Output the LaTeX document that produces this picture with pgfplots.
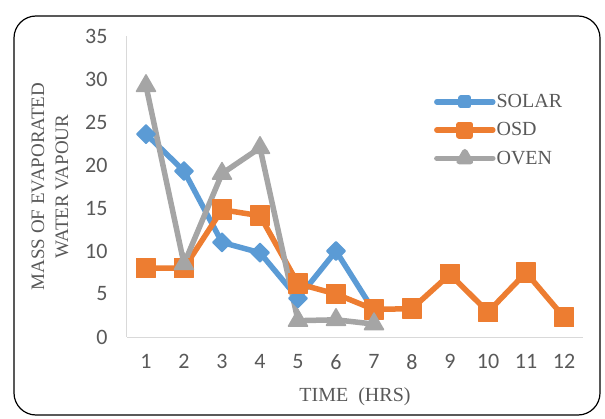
\documentclass[border=0pt]{standalone}
\usepackage{fontspec}
\setmainfont{Liberation Serif}
\newfontfamily\labfont{Liberation Serif}
\newfontfamily\tickfont{Carlito}
\usepackage{pgfplots}
\pgfplotsset{compat=1.18}

\definecolor{solar}{HTML}{5B9BD5}
\definecolor{osd}{HTML}{ED7D31}
\definecolor{oven}{HTML}{A5A5A5}
\definecolor{txt}{HTML}{595959}
\definecolor{axl}{HTML}{D9D9D9}

\begin{document}
\begin{tikzpicture}[x=1bp,y=1bp]
\useasboundingbox (-127bp,-82bp) rectangle (478bp,337bp);
\draw[black, line width=1.2bp, rounded corners=22bp] (-113bp,-78bp) rectangle (473bp,321bp);
\begin{axis}[
    at={(0,0)}, anchor=origin,
    scale only axis,
    width=456bp, height=301bp,
    xmin=0.5, xmax=12.5,
    ymin=0, ymax=35,
    xtick={1,...,12},
    ytick={0,5,...,35},
    major tick length=0pt,
    axis x line=bottom, axis y line=left,
    axis line style={-, draw=axl, line width=1bp},
    /pgf/number format/assume math mode=true,
    tick label style={font=\tickfont\fontsize{22bp}{24bp}\selectfont, text=txt},
    yticklabel style={xshift=-16bp},
    xticklabel style={yshift=-14bp},
    xlabel={TIME\ \ (HRS)},
    ylabel={MASS OF EVAPORATED\\WATER VAPOUR},
    xlabel style={font=\labfont\fontsize{20bp}{22bp}\selectfont, text=txt,
        at={(axis description cs:0.5,0)}, anchor=center, yshift=-60bp},
    ylabel style={font=\labfont\fontsize{19bp}{24bp}\selectfont, text=txt, align=center,
        at={(axis description cs:-0.169,0.5)}, anchor=center},
    clip=false,
    legend style={at={(0.673,0.813)}, anchor=north west, draw=none, fill=none,
        font=\labfont\fontsize{20bp}{22bp}\selectfont, text=txt, row sep=9.5bp,
        inner sep=0pt, nodes={inner xsep=1bp}},
    legend cell align=left,
    legend image code/.code={\draw[mark repeat=2, mark phase=2, #1, mark options={scale=0.6}] plot coordinates {(0bp,0bp)(28bp,0bp)(56bp,0bp)};},
    every axis plot/.append style={line width=5.5bp, line join=round, line cap=round},
]
\addplot[solar, mark=square*, mark size=6.5bp, mark options={rotate=45, line width=1.5bp, line join=round}]
  coordinates {(1,23.6) (2,19.3) (3,11.0) (4,9.8) (5,4.5) (6,10.0) (7,3.0)};
\addplot[osd, mark=square*, mark size=9.5bp, mark options={line width=1.5bp, line join=round}]
  coordinates {(1,8.0) (2,8.0) (3,14.8) (4,14.1) (5,6.2) (6,5.0) (7,3.2) (8,3.3) (9,7.3) (10,2.9) (11,7.5) (12,2.3)};
\addplot[oven, mark=triangle*, mark size=11bp, mark options={line width=1.5bp, line join=round}]
  coordinates {(1,29.2) (2,8.5) (3,19.0) (4,22.0) (5,1.9) (6,2.0) (7,1.5)};
\legend{SOLAR, OSD, OVEN}
\end{axis}
\end{tikzpicture}
\end{document}
